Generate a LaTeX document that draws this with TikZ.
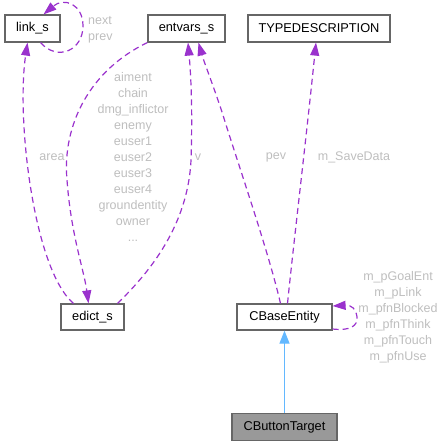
\documentclass[tikz,border=0pt]{standalone}
\usepackage{fontspec}
\setmainfont{Liberation Sans}
\usepackage{tikz}
\usetikzlibrary{arrows.meta, positioning}
\definecolor{edgepurple}{HTML}{9A32CD}
\definecolor{inhblue}{HTML}{63B8FF}
\definecolor{lblgrey}{HTML}{BEBEBE}
\definecolor{boxgrey}{HTML}{666666}
\definecolor{boxfill}{HTML}{999999}

\begin{document}
\begin{tikzpicture}[x=1pt, y=-1pt, node distance=110pt,
    box/.style={rectangle, draw=boxgrey, line width=1.2pt, fill=white, minimum height=27pt, inner sep=0pt, font=\fontsize{12.8}{14}\selectfont},
    uses/.style={edgepurple, line width=1.2pt, dash pattern=on 6pt off 4pt, -{Triangle[length=13pt, width=9pt]}},
    lbl/.style={text=lblgrey, font=\fontsize{12.5}{16}\selectfont, align=center, inner sep=0pt}]
    \useasboundingbox (0,0) rectangle (444,447);

    \node[box, minimum width=55pt] (link) at (32.5,28.5) {link\_s};
    \node[box, minimum width=77pt] (entvars) at (186.5,28.5) {entvars\_s};
    \node[box, minimum width=142pt] (typedesc) at (319,28.5) {TYPEDESCRIPTION};
    \node[box, minimum width=63pt, minimum height=26pt] (edict) at (92.5,317) {edict\_s};
    \node[box, minimum width=95pt, minimum height=26pt] (cbase) at (284.5,317) {CBaseEntity};
    \node[box, minimum width=105pt, fill=boxfill, below of=cbase] (cbutton) {CButtonTarget};

    \draw[uses] ([xshift=8pt]link.south) .. controls (58,62) and (83,50) .. (83,26) .. controls (83,4) and (64,-3) .. ([xshift=11pt]link.north);
    \draw[uses] ([xshift=-19pt]edict.north) .. controls (34,270) and (16,120) .. ([xshift=-5pt]link.south);
    \draw[uses] (entvars.south west) .. controls (90,70) and (62,125) .. (67,180) .. controls (71,235) and (84,270) .. ([xshift=-4pt]edict.north);
    \draw[uses] ([xshift=25pt]edict.north) .. controls (150,272) and (188,225) .. (191,160) .. controls (193,100) and (190,65) .. ([xshift=1.5pt]entvars.south);
    \draw[uses] ([xshift=-4pt]cbase.north) .. controls (268,250) and (240,170) .. (222,112) .. controls (212,82) and (204,62) .. ([xshift=12pt]entvars.south);
    \draw[uses] ([xshift=3pt]cbase.north) .. controls (294,240) and (306,140) .. ([xshift=-3pt]typedesc.south);
    \draw[uses] ([yshift=-12pt]cbase.east) .. controls (350,331) and (358,326) .. (357,317) .. controls (356,309) and (352,305) .. ([yshift=11pt]cbase.east);
    \draw[inhblue, line width=1.2pt, -{Triangle[length=13pt, width=10pt]}] (cbutton) -- (cbase);

    \node[lbl, anchor=west, align=left] (linklbl) at (88,30) {next\\prev};
    \node[lbl] (arealbl) at (52,157) {area};
    \node[lbl] (memlbl) at (133,157) {aiment\\chain\\dmg\_inflictor\\enemy\\euser1\\euser2\\euser3\\euser4\\groundentity\\owner\\...};
    \node[lbl] (vlbl) at (198,157) {v};
    \node[lbl] (pevlbl) at (276,157) {pev};
    \node[lbl] (savelbl) at (354,157) {m\_SaveData};
    \node[lbl] (cbaselbl) at (398,317) {m\_pGoalEnt\\m\_pLink\\m\_pfnBlocked\\m\_pfnThink\\m\_pfnTouch\\m\_pfnUse};
\end{tikzpicture}
\end{document}
